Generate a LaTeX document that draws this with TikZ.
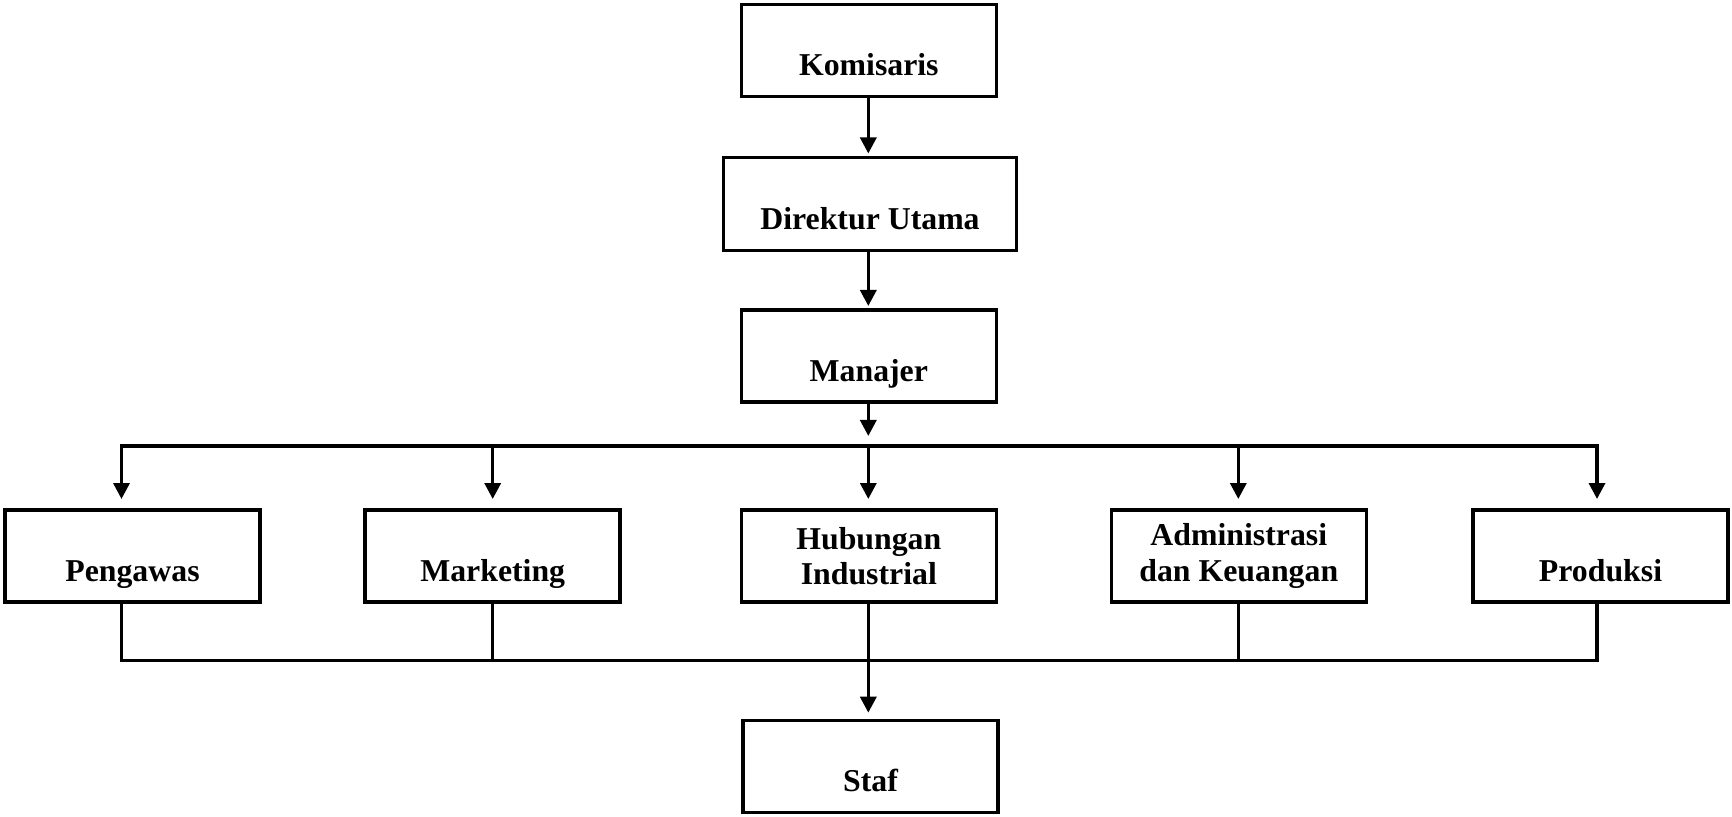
\documentclass[tikz,border=0pt]{standalone}
\usepackage{fontspec}
\setmainfont{Liberation Serif}
\usetikzlibrary{arrows.meta}
\tikzset{
  box/.style={draw, line width=1.8pt, inner sep=0pt, minimum width=127.5pt, minimum height=46pt,
    font=\fontsize{15.9}{17.7}\selectfont\bfseries, align=center},
  low/.style={text height=27pt, text depth=2pt},
  line/.style={line width=1.7pt},
  arr/.style={line width=1.7pt, -{Triangle[width=8pt,length=8pt]}},
}
\begin{document}
\begin{tikzpicture}[x=0.5pt, y=-0.5pt]
\useasboundingbox (0,0) rectangle (1732,817);
% top column
\node[box, low] (kom) at (868.8,50.7) {Komisaris};
\node[box, low, minimum width=146.5pt, minimum height=46.5pt] (dir) at (870,204.2) {Direktur Utama};
\node[box, low] (man) at (868.8,356.2) {Manajer};
% second row
\node[box, low] (peng) at (132.5,556) {Pengawas};
\node[box, low] (mkt) at (492.7,556) {Marketing};
\node[box] (hub) at (868.8,556) {Hubungan\\Industrial};
\node[box] (adm) at (1238.8,556) {Administrasi\\dan Keuangan};
\node[box, low] (prod) at (1600.5,556) {Produksi};
% bottom
\node[box, low] (staf) at (870.5,766.5) {Staf};
% bus coordinates
\coordinate (t1) at (121.5,446);
\coordinate (t2) at (492.7,446);
\coordinate (t3) at (868.3,446);
\coordinate (t4) at (1238.3,446);
\coordinate (t5) at (1597,446);
\coordinate (b1) at (121.5,660.5);
\coordinate (b2) at (492.7,660.5);
\coordinate (b3) at (868.3,660.5);
\coordinate (b4) at (1238.3,660.5);
\coordinate (b5) at (1597,660.5);
% vertical chain
\draw[arr, shorten >=1.2pt] (kom.south -| t3) -- (dir.north -| t3);
\draw[arr, shorten >=1.2pt] (dir.south -| t3) -- (man.north -| t3);
\draw[arr, shorten >=5pt] (man.south -| t3) -- (t3);
% top bus
\draw[line] (t1) -- (t5);
\draw[arr, shorten >=4.6pt] (t2) -- (t1) -- (t1 |- peng.north);
\draw[arr, shorten >=4.6pt] (t4) -- (t5) -- (t5 |- prod.north);
\draw[arr, shorten >=4.6pt] (t2) -- (t2 |- mkt.north);
\draw[arr, shorten >=4.6pt] (t3) -- (t3 |- hub.north);
\draw[arr, shorten >=4.6pt] (t4) -- (t4 |- adm.north);
% bottom bus
\draw[line] (peng.south -| b1) -- (b1) -- (b5) -- (prod.south -| b5);
\draw[line] (mkt.south -| b2) -- (b2);
\draw[line] (adm.south -| b4) -- (b4);
\draw[arr, shorten >=3pt] (hub.south -| b3) -- (staf.north -| b3);
\end{tikzpicture}
\end{document}
